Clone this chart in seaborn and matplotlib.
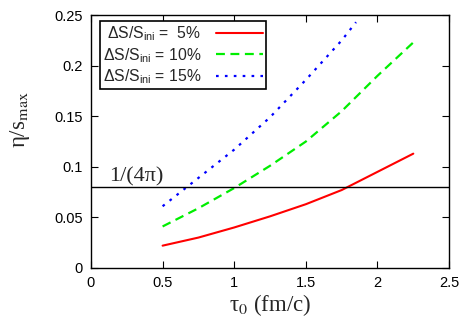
import numpy as np
import pandas as pd
import matplotlib
matplotlib.use('Agg')
import matplotlib.pyplot as plt
import seaborn as sns

# values
tau0 = [0.5, 0.75, 1.0, 1.25, 1.5, 1.75, 2.0, 2.25]
eta_s_5 = [0.022, 0.030, 0.040, 0.051, 0.063, 0.077, 0.095, 0.113]
eta_s_10 = [0.041, 0.059, 0.079, 0.101, 0.125, 0.155, 0.190, 0.223]
tau0_15 = [0.5, 0.75, 1.0, 1.25, 1.5, 1.75, 1.85]
eta_s_15 = [0.061, 0.089, 0.117, 0.149, 0.186, 0.225, 0.243]
kss_bound = 1 / (4 * np.pi)

labels = [r'$\Delta$S/S$_{\mathrm{ini}}$ =  5%',
          r'$\Delta$S/S$_{\mathrm{ini}}$ = 10%',
          r'$\Delta$S/S$_{\mathrm{ini}}$ = 15%']

sns.set_style('ticks')
plt.rcParams['font.family'] = ['Liberation Sans', 'DejaVu Sans']
plt.rcParams['mathtext.fontset'] = 'custom'
plt.rcParams['mathtext.rm'] = 'Liberation Sans'
plt.rcParams['mathtext.it'] = 'Liberation Sans:italic'
plt.rcParams['mathtext.sf'] = 'Liberation Sans'

fig = plt.figure(figsize=(4.63, 3.22), dpi=100)
ax = fig.add_axes([0.1965, 0.168, 0.7735, 0.785])

df5 = pd.DataFrame({'tau0': tau0, 'eta_s': eta_s_5})
df10 = pd.DataFrame({'tau0': tau0, 'eta_s': eta_s_10})
df15 = pd.DataFrame({'tau0': tau0_15, 'eta_s': eta_s_15})

sns.lineplot(data=df5, x='tau0', y='eta_s', ax=ax, color='#ff0000', lw=1.5,
             label=labels[0])
sns.lineplot(data=df10, x='tau0', y='eta_s', ax=ax, color='#00ee00', lw=1.6,
             label=labels[1]).lines[-1].set_dashes([4, 2.5])
sns.lineplot(data=df15, x='tau0', y='eta_s', ax=ax, color='#0000ff', lw=1.6,
             label=labels[2]).lines[-1].set_dashes([1.2, 2.8])

ax.axhline(kss_bound, color='black', lw=1.0)
ax.text(0.13, kss_bound + 0.001, '1/(4π)', fontsize=16,
        family='Liberation Serif', va='bottom', ha='left')

ax.set_xlim(0, 2.5)
ax.set_ylim(0, 0.25)
ax.set_xticks([0, 0.5, 1, 1.5, 2, 2.5])
ax.set_xticklabels(['0', '0.5', '1', '1.5', '2', '2.5'])
ax.set_yticks([0, 0.05, 0.1, 0.15, 0.2, 0.25])
ax.set_yticklabels(['0', '0.05', '0.1', '0.15', '0.2', '0.25'])
ax.tick_params(direction='in', top=True, right=True, length=5, width=0.8,
               labelsize=10.5, colors='black', pad=6)
for sp in ax.spines.values():
    sp.set_linewidth(1.0)
    sp.set_color('black')

ax.set_xlabel('τ$_{\\mathrm{0}}$ (fm/c)', fontsize=16.5, family='Liberation Serif',
              math_fontfamily='stix', labelpad=1)
ax.set_ylabel('η/s$_{\\mathrm{max}}$', fontsize=16.5, family='Liberation Serif',
              math_fontfamily='stix')
ax.yaxis.set_label_coords(-0.165, 0.585)

leg = ax.legend(loc='upper left', bbox_to_anchor=(0.025, 0.976), borderaxespad=0,
                markerfirst=False, fontsize=11.3, handlelength=3.0,
                frameon=True, fancybox=False, framealpha=1, edgecolor='black',
                borderpad=0.2, labelspacing=0.18, handletextpad=0.9)
leg.get_frame().set_linewidth(1.2)

fig.savefig('out.png', dpi=100)
